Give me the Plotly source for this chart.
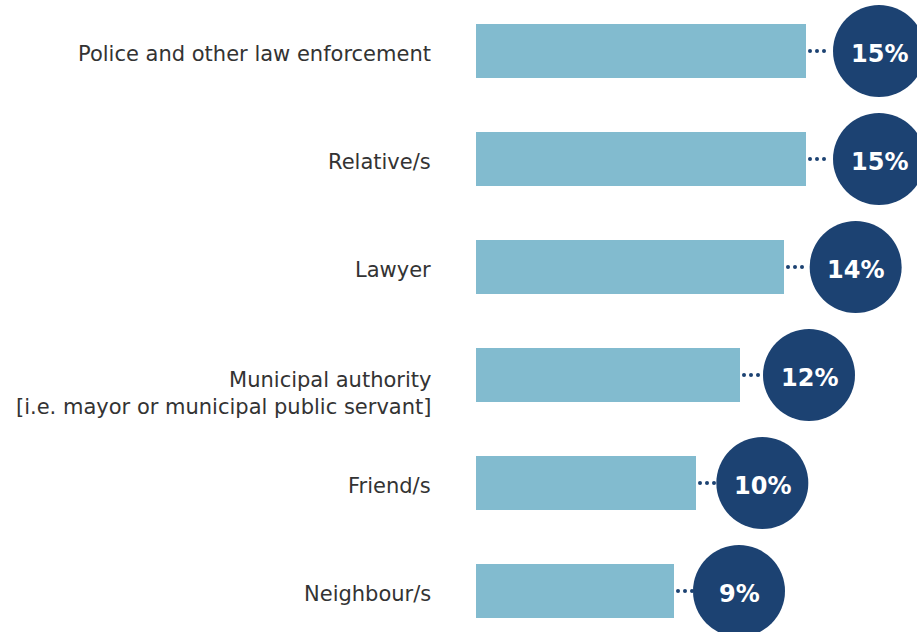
import plotly.graph_objects as go

categories = [
    "Police and other law enforcement",
    "Relative/s",
    "Lawyer",
    "Municipal authority<br>[i.e. mayor or municipal public servant]",
    "Friend/s",
    "Neighbour/s",
]
values = [15, 15, 14, 12, 10, 9]
value_labels = ["15%", "15%", "14%", "12%", "10%", "9%"]

BAR_COLOR = "#82bbcf"
NAVY = "#1c4272"
PX_PER_UNIT = 22.0
W, H = 917, 632
BAR_LEFT_PX = 476
ROW_PX = 108
FIRST_ROW_PX = 51

pos = list(range(len(categories)))

fig = go.Figure()

fig.add_trace(go.Bar(
    x=values, y=pos, orientation="h", width=0.5,
    marker=dict(color=BAR_COLOR, line=dict(width=0)),
    hoverinfo="skip",
))

# dotted connectors (three dots)
dot_offsets_px = [4, 11, 18]
dx, dy = [], []
for v, p in zip(values, pos):
    for o in dot_offsets_px:
        dx.append(v + o / PX_PER_UNIT)
        dy.append(p)
fig.add_trace(go.Scatter(
    x=dx, y=dy, mode="markers",
    marker=dict(size=4, color=NAVY, line=dict(width=0)),
    hoverinfo="skip",
))

# circles
cx = [2.409 + 1.0606 * v for v in values]
fig.add_trace(go.Scatter(
    x=cx, y=pos, mode="markers",
    marker=dict(size=92, color=NAVY, line=dict(width=0)),
    hoverinfo="skip", cliponaxis=False,
))

# percentage labels inside circles
for x, p, t in zip(cx, pos, value_labels):
    fig.add_annotation(
        x=x, y=p, xref="x", yref="y", text=t, showarrow=False,
        xanchor="center", yanchor="middle", yshift=-3,
        font=dict(family="DejaVu Sans", size=24, color="white", weight="bold"),
    )

# category labels (first line aligned with bar centre, extra lines below)
for c, p in zip(categories, pos):
    nlines = c.count("<br>") + 1
    fig.add_annotation(
        x=-43 / PX_PER_UNIT, y=p, xref="x", yref="y",
        text=c, showarrow=False, xanchor="right", yanchor="middle",
        align="right", yshift=-3 - 15 * (nlines - 1),
        font=dict(family="DejaVu Sans", size=21, color="#333333"),
    )

x_lo = -BAR_LEFT_PX / PX_PER_UNIT
x_hi = (W - BAR_LEFT_PX) / PX_PER_UNIT
y_top = -FIRST_ROW_PX / ROW_PX
y_bot = (H - FIRST_ROW_PX) / ROW_PX

fig.update_layout(
    width=W, height=H, autosize=False,
    margin=dict(l=0, r=0, t=0, b=0),
    paper_bgcolor="white", plot_bgcolor="white",
    showlegend=False,
    xaxis=dict(range=[x_lo, x_hi], visible=False, fixedrange=True),
    yaxis=dict(range=[y_bot, y_top], visible=False, fixedrange=True),
)

fig.write_html(
    "out.html",
    config={"displayModeBar": False},
    post_script="document.body.style.margin='0';document.body.style.overflow='hidden';",
)
